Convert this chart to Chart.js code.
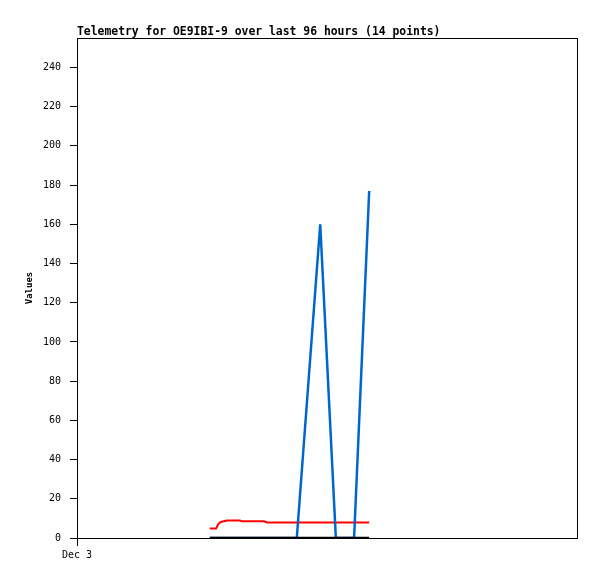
<!DOCTYPE html>
<html lang="en">
<head>
    <meta charset="UTF-8">
    <title>Telemetry for OE9IBI-9</title>
    <script src="https://cdn.jsdelivr.net/npm/chart.js@4.4.1/dist/chart.umd.min.js"></script>
    <style>
        body {
            margin: 0;
            padding: 0;
            background-color: #fff;
        }
        .container {
            width: 597px;
            height: 579px;
        }
    </style>
</head>
<body>
    <div class="container">
        <canvas id="telemetry" width="597" height="579"></canvas>
    </div>

    <script>
        // hours since Dec 3 00:00
        const hours = [25.5, 26.7, 27.1, 27.6, 28.8, 31.3, 31.7, 35.9, 36.5, 42.2, 46.7, 49.7, 53.2, 56.1];
        const redValues = [4.8, 4.8, 7.0, 8.2, 8.9, 8.9, 8.5, 8.5, 7.9, 7.9, 7.9, 7.9, 7.9, 7.9];
        const blueValues = [0, 0, 0, 0, 0, 0, 0, 0, 0, 0, 160, 0, 0, 177];
        const blackValues = [0, 0, 0, 0, 0, 0, 0, 0, 0, 0, 0, 0, 0, 0];
        const xTickLabels = ['Dec 3'];
        const yTicks = [0, 20, 40, 60, 80, 100, 120, 140, 160, 180, 200, 220, 240];

        const titleText = 'Telemetry for OE9IBI-9 over last 96 hours (14 points)';

        function toPoints(vals) {
            return hours.map((h, i) => ({ x: h, y: vals[i] }));
        }

        // title drawn at left of plot area, plus frame around it
        const framePlugin = {
            id: 'frame',
            afterDraw(chart) {
                const { ctx, chartArea } = chart;
                ctx.save();
                ctx.strokeStyle = '#000';
                ctx.lineWidth = 1;
                ctx.strokeRect(chartArea.left + 0.5, chartArea.top + 0.5,
                    chartArea.right - chartArea.left, chartArea.bottom - chartArea.top);
                ctx.fillStyle = '#000';
                ctx.font = 'bold 11.4px "DejaVu Sans Mono", monospace';
                ctx.textBaseline = 'alphabetic';
                ctx.fillText(titleText, chartArea.left, chartArea.top - 3);
                ctx.restore();
            }
        };

        const ctx = document.getElementById('telemetry').getContext('2d');
        new Chart(ctx, {
            type: 'line',
            data: {
                datasets: [
                    {
                        label: 'black',
                        data: toPoints(blackValues),
                        borderColor: '#000000',
                        borderWidth: 2.5,
                        pointRadius: 0,
                        tension: 0,
                        order: 0
                    },
                    {
                        label: 'red',
                        data: toPoints(redValues),
                        borderColor: '#ff0000',
                        borderWidth: 2,
                        pointRadius: 0,
                        tension: 0,
                        order: 2
                    },
                    {
                        label: 'blue',
                        data: toPoints(blueValues),
                        borderColor: '#0066cc',
                        borderWidth: 2.5,
                        pointRadius: 0,
                        tension: 0,
                        order: 1
                    }
                ]
            },
            options: {
                responsive: false,
                animation: false,
                layout: {
                    padding: { top: 38, right: 20, bottom: 0, left: 0 }
                },
                plugins: {
                    legend: { display: false },
                    title: { display: false },
                    tooltip: { enabled: false }
                },
                scales: {
                    x: {
                        type: 'linear',
                        min: 0,
                        max: 96,
                        afterBuildTicks(scale) {
                            scale.ticks = [{ value: 0 }];
                        },
                        afterFit(scale) {
                            scale.height = 41;
                        },
                        border: { color: '#000', width: 1 },
                        grid: {
                            drawOnChartArea: false,
                            color: '#000',
                            tickLength: 8
                        },
                        ticks: {
                            color: '#000',
                            padding: 3,
                            maxRotation: 0,
                            font: { family: '"DejaVu Sans Mono", monospace', size: 10 },
                            callback: (v, i) => xTickLabels[i]
                        }
                    },
                    y: {
                        min: 0,
                        max: 255,
                        afterBuildTicks(scale) {
                            scale.ticks = yTicks.map(v => ({ value: v }));
                        },
                        afterFit(scale) {
                            scale.width = 77;
                        },
                        border: { color: '#000', width: 1 },
                        grid: {
                            drawOnChartArea: false,
                            color: '#000',
                            tickLength: 7
                        },
                        ticks: {
                            color: '#000',
                            padding: 9,
                            font: { family: '"DejaVu Sans Mono", monospace', size: 10 }
                        },
                        title: {
                            display: true,
                            text: 'Values',
                            color: '#000',
                            padding: { top: 24, bottom: 0 },
                            font: { family: '"DejaVu Sans Mono", monospace', size: 9, weight: 'bold' }
                        }
                    }
                }
            },
            plugins: [framePlugin]
        });
    </script>
</body>
</html>
